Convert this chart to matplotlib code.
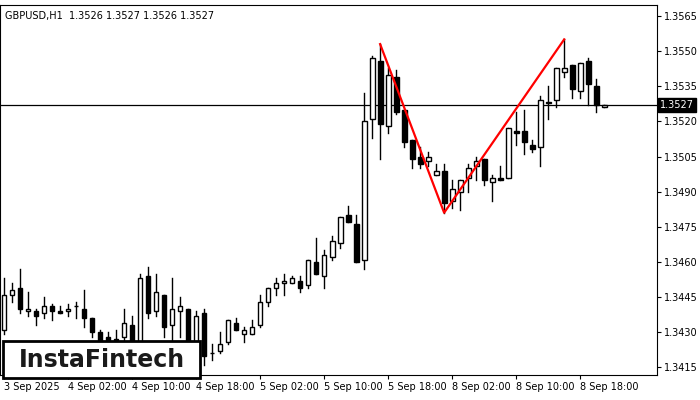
import numpy as np
import matplotlib
matplotlib.use("Agg")
import matplotlib.pyplot as plt
from matplotlib.patches import Rectangle

opens = [1.3431, 1.3446, 1.3449, 1.3439, 1.3439, 1.3438, 1.3441, 1.3439, 1.3439, 1.3441,
         1.3440, 1.3436, 1.3430, 1.3428, 1.3427, 1.3428, 1.3433, 1.3426, 1.3454, 1.3439,
         1.3446, 1.3433, 1.3439, 1.3440, 1.3426, 1.3438, 1.3421, 1.3422, 1.3426, 1.3434,
         1.3429, 1.3429, 1.3433, 1.3443, 1.3449, 1.3451, 1.3451, 1.3452, 1.3450, 1.3460,
         1.3454, 1.3462, 1.3468, 1.3480, 1.3476, 1.3461, 1.3521, 1.3546, 1.3518, 1.3539,
         1.3525, 1.3512, 1.3505, 1.3503, 1.3497, 1.3499, 1.3486, 1.3490, 1.3496, 1.3501,
         1.3504, 1.3494, 1.3496, 1.3496, 1.3516, 1.3516, 1.3510, 1.3509, 1.3528, 1.3529,
         1.3541, 1.3544, 1.3533, 1.3546, 1.3535, 1.3526]
highs = [1.3453, 1.3451, 1.3457, 1.3447, 1.3440, 1.3445, 1.3442, 1.3441, 1.3442, 1.3443,
         1.3448, 1.3436, 1.3431, 1.3430, 1.3431, 1.3440, 1.3437, 1.3455, 1.3458, 1.3455,
         1.3446, 1.3453, 1.3445, 1.3440, 1.3439, 1.3440, 1.3425, 1.3430, 1.3435, 1.3436,
         1.3432, 1.3435, 1.3446, 1.3449, 1.3453, 1.3455, 1.3454, 1.3454, 1.3461, 1.3470,
         1.3465, 1.3471, 1.3479, 1.3484, 1.3480, 1.3532, 1.3548, 1.3553, 1.3543, 1.3542,
         1.3525, 1.3512, 1.3509, 1.3507, 1.3502, 1.3502, 1.3495, 1.3495, 1.3502, 1.3505,
         1.3504, 1.3497, 1.3501, 1.3517, 1.3524, 1.3525, 1.3512, 1.3531, 1.3535, 1.3543,
         1.3555, 1.3544, 1.3545, 1.3547, 1.3538, 1.3527]
lows = [1.3429, 1.3443, 1.3438, 1.3437, 1.3433, 1.3436, 1.3435, 1.3438, 1.3437, 1.3436,
        1.3432, 1.3428, 1.3422, 1.3424, 1.3424, 1.3424, 1.3422, 1.3422, 1.3436, 1.3437,
        1.3428, 1.3424, 1.3428, 1.3420, 1.3422, 1.3416, 1.3418, 1.3421, 1.3425, 1.3431,
        1.3426, 1.3429, 1.3432, 1.3441, 1.3446, 1.3446, 1.3451, 1.3447, 1.3449, 1.3455,
        1.3449, 1.3461, 1.3466, 1.3477, 1.3460, 1.3457, 1.3513, 1.3504, 1.3515, 1.3523,
        1.3509, 1.3500, 1.3500, 1.3501, 1.3497, 1.3481, 1.3483, 1.3482, 1.3490, 1.3495,
        1.3493, 1.3486, 1.3495, 1.3496, 1.3510, 1.3506, 1.3507, 1.3501, 1.3521, 1.3526,
        1.3539, 1.3530, 1.3530, 1.3527, 1.3524, 1.3526]
closes = [1.3446, 1.3448, 1.3440, 1.3440, 1.3437, 1.3441, 1.3439, 1.3438, 1.3440, 1.3441,
          1.3436, 1.3430, 1.3424, 1.3426, 1.3426, 1.3434, 1.3426, 1.3453, 1.3438, 1.3447,
          1.3432, 1.3440, 1.3441, 1.3426, 1.3437, 1.3420, 1.3421, 1.3425, 1.3435, 1.3431,
          1.3431, 1.3432, 1.3443, 1.3449, 1.3451, 1.3452, 1.3453, 1.3449, 1.3461, 1.3455,
          1.3463, 1.3469, 1.3479, 1.3477, 1.3460, 1.3520, 1.3547, 1.3519, 1.3540, 1.3524,
          1.3511, 1.3504, 1.3502, 1.3505, 1.3499, 1.3485, 1.3491, 1.3495, 1.3500, 1.3503,
          1.3495, 1.3496, 1.3495, 1.3517, 1.3515, 1.3511, 1.3508, 1.3529, 1.3528, 1.3543,
          1.3543, 1.3534, 1.3545, 1.3536, 1.3527, 1.3527]

tick_idx = [0, 8, 16, 24, 32, 40, 48, 56, 64, 72]
tick_labels = ['3 Sep 2025', '4 Sep 02:00', '4 Sep 10:00', '4 Sep 18:00', '5 Sep 02:00',
               '5 Sep 10:00', '5 Sep 18:00', '8 Sep 02:00', '8 Sep 10:00', '8 Sep 18:00']
price_ticks = [1.3565, 1.3550, 1.3535, 1.3520, 1.3505, 1.3490, 1.3475, 1.3460, 1.3445, 1.3430, 1.3415]

pattern_idx = [47, 55, 70]
pattern_px = [1.3553, 1.3481, 1.3555]
last_price = 1.3527

fig = plt.figure(figsize=(7, 4), dpi=100)
ax = fig.add_axes([0.0, 0.0625, 657 / 700, 0.925])

w = 0.6
for i in range(len(opens)):
    o, h, l, c = opens[i], highs[i], lows[i], closes[i]
    ax.plot([i, i], [l, h], color='black', lw=1, zorder=2)
    lo = min(o, c)
    hgt = max(abs(c - o), 0.00001)
    face = 'white' if c >= o else 'black'
    ax.add_patch(Rectangle((i - w / 2, lo), w, hgt, facecolor=face, edgecolor='black', lw=1, zorder=3))

ax.plot(pattern_idx, pattern_px, color='red', lw=1.6, zorder=4)
ax.axhline(last_price, color='black', lw=0.9, zorder=1)

ax.set_xlim(-0.5, 81.6)
ax.set_ylim(1.34117, 1.35697)
ax.yaxis.tick_right()
ax.set_yticks(price_ticks)
ax.set_yticklabels([f"{p:.4f}" for p in price_ticks], fontsize=7)
ax.set_xticks(tick_idx)
ax.set_xticklabels(tick_labels, fontsize=7, ha='left')
ax.tick_params(length=3, pad=2)

ax.text(0.007, 0.985, "GBPUSD,H1  1.3526 1.3527 1.3526 1.3527", transform=ax.transAxes,
        fontsize=7, va='top', ha='left')
ax.text(1.005, last_price, "1.3527", transform=ax.get_yaxis_transform(), fontsize=7,
        color='white', va='center', ha='left',
        bbox=dict(boxstyle='square,pad=0.2', facecolor='black', edgecolor='black'))

# logo box
fig.patches.append(Rectangle((3 / 700, 22 / 400), 197 / 700, 37 / 400, transform=fig.transFigure,
                             facecolor='white', edgecolor='black', lw=2, zorder=10))
fig.text(102 / 700, 40 / 400, "InstaFintech", fontsize=17, ha='center', va='center',
         color='#1a1a1a', fontweight='semibold', zorder=11)

fig.savefig("out.png", dpi=100)
